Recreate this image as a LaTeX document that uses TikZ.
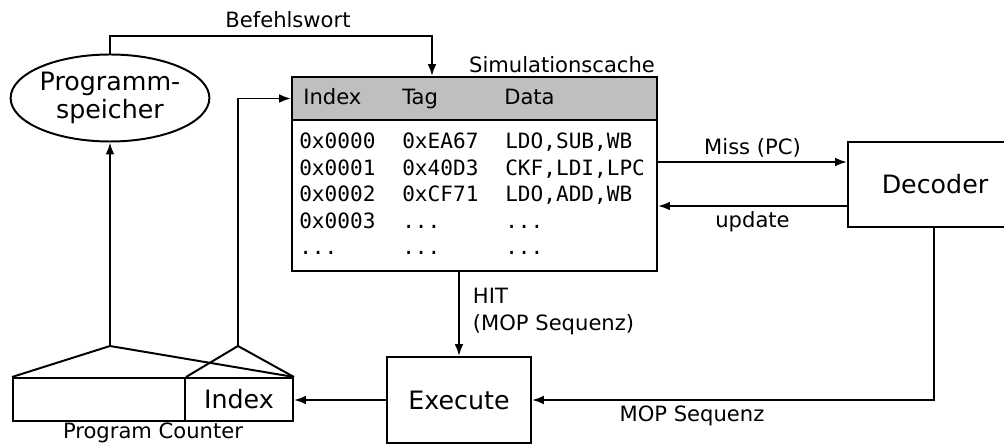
\documentclass[tikz,border=0pt]{standalone}
\usepackage{fontspec}
\setmainfont{DejaVu Sans}
\setmonofont{DejaVu Sans Mono}
\usetikzlibrary{shapes.geometric, arrows.meta}

\tikzset{
    block/.style={draw, line width=1.4pt, rectangle, inner sep=0pt},
    conn/.style={line width=1.4pt, -{Latex[length=3mm, width=2.2mm]}},
    big/.style={font=\fontsize{18}{20}\selectfont},
    small/.style={font=\fontsize{15}{19}\selectfont},
    cell/.style={font=\fontsize{15}{18}\selectfont\ttfamily, anchor=base west, inner sep=0pt},
}

\begin{document}
\begin{tikzpicture}
    \useasboundingbox (0cm,0cm) rectangle (25.1cm,-11.125cm);
    \clip (0cm,0cm) rectangle (25.1cm,-11.125cm);

    % speicher and cache
    \node[draw, line width=1.4pt, ellipse, minimum width=4.85cm, minimum height=2.175cm, inner sep=0pt, align=center, big] (mem) at (2.75cm,-2.45cm) {Programm-\\speicher};
    \node[block, minimum width=9.125cm, minimum height=4.85cm] (cache) at (11.8625cm,-4.35cm) {};
    \node[block, fill=black!25, minimum width=9.125cm, minimum height=1.075cm] (head) at (11.8625cm,-2.4625cm) {};
    \node[small, anchor=south east, inner sep=2pt] (cachelbl) at (cache.north east) {Simulationscache};

    \node[small, anchor=base west, inner sep=0pt] (hidx) at (7.575cm,-2.625cm) {Index};
    \node[small, anchor=base west, inner sep=0pt] (htag) at (10.05cm,-2.625cm) {Tag};
    \node[small, anchor=base west, inner sep=0pt] (hdat) at (12.6cm,-2.625cm) {Data};

    \node[cell] (idxa) at (7.475cm,-3.725cm) {0x0000};
    \node[cell] (taga) at (10.05cm,-3.725cm) {0xEA67};
    \node[cell] (data) at (12.625cm,-3.725cm) {LDO,SUB,WB};
    \node[cell] (idxb) at (7.475cm,-4.3875cm) {0x0001};
    \node[cell] (tagb) at (10.05cm,-4.3875cm) {0x40D3};
    \node[cell] (datb) at (12.625cm,-4.3875cm) {CKF,LDI,LPC};
    \node[cell] (idxc) at (7.475cm,-5.05cm) {0x0002};
    \node[cell] (tagc) at (10.05cm,-5.05cm) {0xCF71};
    \node[cell] (datc) at (12.625cm,-5.05cm) {LDO,ADD,WB};
    \node[cell] (idxd) at (7.475cm,-5.7125cm) {0x0003};
    \node[cell] (tagd) at (10.05cm,-5.7125cm) {...};
    \node[cell] (datd) at (12.625cm,-5.7125cm) {...};
    \node[cell] (idxe) at (7.475cm,-6.375cm) {...};
    \node[cell] (tage) at (10.05cm,-6.375cm) {...};
    \node[cell] (date) at (12.625cm,-6.375cm) {...};

    % decoder, execute, program counter
    \node[block, minimum width=4.35cm, minimum height=2.125cm, big] (dec) at (23.375cm,-4.6125cm) {Decoder};
    \node[block, minimum width=3.6cm, minimum height=2.15cm, big] (exe) at (11.475cm,-10cm) {Execute};
    \node[block, minimum width=4.3cm, minimum height=1.075cm] (pchi) at (2.475cm,-9.9875cm) {};
    \node[block, minimum width=2.7cm, minimum height=1.075cm, big] (pcidx) at (5.975cm,-9.9875cm) {Index};
    \node[small, anchor=north, inner sep=1pt] (pclbl) at (3.825cm,-10.525cm) {Program Counter};

    \coordinate (apexl) at (2.75cm,-8.65cm);
    \coordinate (apexr) at (5.95cm,-8.65cm);
    \coordinate (bwort) at (10.8cm,-0.9cm);

    \draw[line width=1.4pt, line join=round] (pchi.north west) -- (apexl) -- (pcidx.north east);
    \draw[line width=1.4pt, line join=round] (pchi.north east) -- (apexr) -- (pcidx.north east);

    % connectors
    \draw[conn] (mem.north) |- (bwort) -- (bwort |- head.north);
    \node[small] (bwlbl) at (7.2cm,-0.5cm) {Befehlswort};
    \draw[conn] (apexl) -- (mem.south);
    \draw[conn] (apexr) |- (head.west);
    \draw[conn] (cache.east |- 0,-4.05cm) -- (dec.west |- 0,-4.05cm) node[midway, above, small, inner sep=3pt] (misslbl) {Miss (PC)};
    \draw[conn] (dec.west |- 0,-5.15cm) -- (cache.east |- 0,-5.15cm) node[midway, below, small, inner sep=3pt] (updlbl) {update};
    \draw[conn] (exe.north |- cache.south) -- (exe.north);
    \node[small, anchor=west, align=left] (hitlbl) at (11.7cm,-7.78cm) {HIT\\(MOP Sequenz)};
    \draw[conn] (23.35cm,-5.675cm) |- (exe.east);
    \node[small] (moplbl) at (17.3cm,-10.4cm) {MOP Sequenz};
    \draw[conn] (exe.west) -- (exe.west -| pcidx.east);
\end{tikzpicture}
\end{document}
